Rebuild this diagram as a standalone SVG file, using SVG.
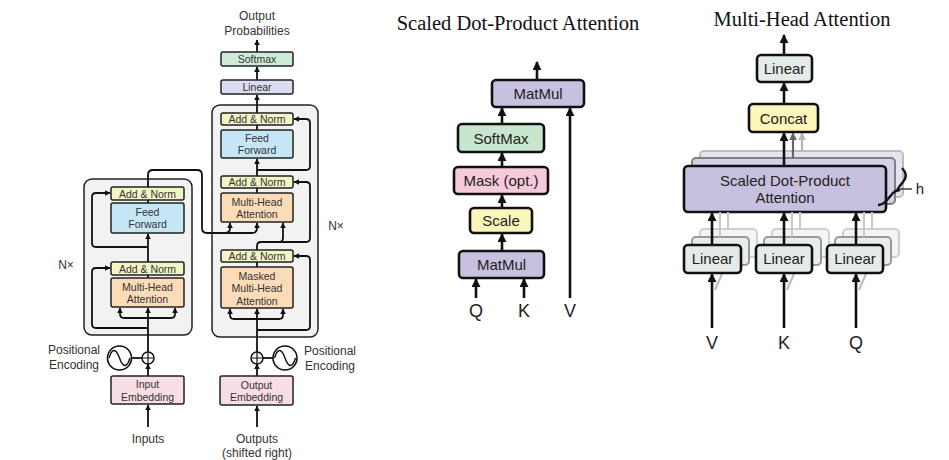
<svg xmlns="http://www.w3.org/2000/svg" width="949" height="460" viewBox="0 0 949 460">
<defs>
<style>
.t{font-family:"Liberation Sans",Arial,sans-serif;fill:#333;text-anchor:middle}
.s{font-size:10.5px}
.m{font-size:12px}
.big{font-family:"Liberation Sans",Arial,sans-serif;fill:#222;text-anchor:middle;font-size:15px}
.lab{font-family:"Liberation Sans",Arial,sans-serif;fill:#222;text-anchor:middle;font-size:18px}
.ttl{font-family:"Liberation Serif","Times New Roman",serif;fill:#111;text-anchor:middle;font-size:20.5px}
.bx{stroke:#222;stroke-width:1.5}
.bb{stroke:#111;stroke-width:2.6}
.ln{fill:none;stroke:#111;stroke-width:1.8}
.lb{fill:none;stroke:#111;stroke-width:2.6}
.an{fill:#f3f5c4}.ff{fill:#c5e7f5}.mh{fill:#fcdcb8}.em{fill:#f8dde5}.sm{fill:#d0ead8}.li{fill:#dcdcf0}
.pu{fill:#c8c0df}.gr{fill:#c8e6cd}.pk{fill:#f6c9db}.ye{fill:#fbf6b9}.lg{fill:#e4ebe9}
</style>
<marker id="a" viewBox="0 0 10 10" refX="9" refY="5" markerWidth="6" markerHeight="6" markerUnits="userSpaceOnUse" orient="auto"><path d="M0,0 L10,5 L0,10 z" fill="#111"/></marker>
<marker id="b" viewBox="0 0 10 10" refX="9" refY="5" markerWidth="9" markerHeight="9" markerUnits="userSpaceOnUse" orient="auto"><path d="M0,0 L10,5 L0,10 z" fill="#111"/></marker>
<marker id="g1" viewBox="0 0 10 10" refX="9" refY="5" markerWidth="8" markerHeight="8" markerUnits="userSpaceOnUse" orient="auto"><path d="M0,0 L10,5 L0,10 z" fill="#666"/></marker>
<marker id="g2" viewBox="0 0 10 10" refX="9" refY="5" markerWidth="8" markerHeight="8" markerUnits="userSpaceOnUse" orient="auto"><path d="M0,0 L10,5 L0,10 z" fill="#b5b5b5"/></marker>
</defs>
<rect width="949" height="460" fill="#fff"/>

<!-- ===== Transformer ===== -->
<g id="encoder-block"><rect x="84" y="179" width="108" height="156" rx="8" fill="#f2f2f2" class="bx"/></g>
<g id="decoder-block"><rect x="212" y="105" width="106" height="232" rx="8" fill="#f2f2f2" class="bx"/></g>

<g id="connectors-transformer">
<path class="ln" d="M148 427 L148 405" marker-end="url(#a)"/>
<path class="ln" d="M148 376 L148 364" marker-end="url(#a)"/>
<path class="ln" d="M148 352 L148 308" marker-end="url(#a)"/>
<path class="ln" d="M148 318 L124 318 Q120 318 120 314 L120 308" marker-end="url(#a)"/>
<path class="ln" d="M148 318 L171 318 Q175 318 175 314 L175 308" marker-end="url(#a)"/>
<path class="ln" d="M148 328 L96 328 Q92 328 92 324 L92 272 Q92 268 96 268 L110 268" marker-end="url(#a)"/>
<path class="ln" d="M148 278 L148 275"/>
<path class="ln" d="M148 262 L148 234" marker-end="url(#a)"/>
<path class="ln" d="M148 247 L96 247 Q92 247 92 243 L92 197 Q92 193 96 193 L110 193" marker-end="url(#a)"/>
<path class="ln" d="M148 203 L148 200"/>
<path class="ln" d="M148 187 L148 175 Q148 170 153 170 L197 170 Q202 170 202 175 L202 228 Q202 233 207 233 L252 233 Q257 233 257 228 L257 223" marker-end="url(#a)"/>
<path class="ln" d="M225 233 Q230 233 230 228 L230 223" marker-end="url(#a)"/>
<path class="ln" d="M257 427 L257 406" marker-end="url(#a)"/>
<path class="ln" d="M257 376 L257 364" marker-end="url(#a)"/>
<path class="ln" d="M257 352 L257 309" marker-end="url(#a)"/>
<path class="ln" d="M257 319 L234 319 Q230 319 230 315 L230 309" marker-end="url(#a)"/>
<path class="ln" d="M257 319 L279 319 Q283 319 283 315 L283 309" marker-end="url(#a)"/>
<path class="ln" d="M257 330 L306 330 Q310 330 310 326 L310 260 Q310 256 306 256 L294 256" marker-end="url(#a)"/>
<path class="ln" d="M257 267 L257 262"/>
<path class="ln" d="M257 250 L257 246 Q257 242 261 242 L306 242 Q310 242 310 238 L310 186 Q310 182 306 182 L294 182" marker-end="url(#a)"/>
<path class="ln" d="M279 242 Q283 242 283 238 L283 223" marker-end="url(#a)"/>
<path class="ln" d="M257 193 L257 188"/>
<path class="ln" d="M257 176 L257 159" marker-end="url(#a)"/>
<path class="ln" d="M257 170 L306 170 Q310 170 310 166 L310 123 Q310 119 306 119 L294 119" marker-end="url(#a)"/>
<path class="ln" d="M257 130 L257 125"/>
<path class="ln" d="M257 113 L257 95" marker-end="url(#a)"/>
<path class="ln" d="M257 80 L257 67" marker-end="url(#a)"/>
<path class="ln" d="M257 52 L257 40" marker-end="url(#a)"/>
<path class="ln" d="M131.5 358 L142 358"/>
<path class="ln" d="M263 358 L273 358"/>
</g>

<g id="enc-addnorm2"><rect x="111" y="187" width="73" height="13" rx="2" class="bx an"/><text class="t s" x="147.5" y="197.5">Add &amp; Norm</text></g>
<g id="enc-ff"><rect x="111" y="203" width="73" height="30" rx="2" class="bx ff"/><text class="t s" x="147.5" y="215.5">Feed</text><text class="t s" x="147.5" y="228">Forward</text></g>
<g id="enc-addnorm1"><rect x="111" y="262" width="73" height="13" rx="2" class="bx an"/><text class="t s" x="147.5" y="272.5">Add &amp; Norm</text></g>
<g id="enc-mha"><rect x="111" y="278" width="73" height="29" rx="2" class="bx mh"/><text class="t s" x="147.5" y="290.5">Multi-Head</text><text class="t s" x="147.5" y="303">Attention</text></g>
<g id="input-emb"><rect x="111" y="376" width="73" height="28" rx="2" class="bx em"/><text class="t s" x="147.5" y="388">Input</text><text class="t s" x="147.5" y="400.5">Embedding</text></g>
<g id="enc-plus"><circle cx="148" cy="358" r="6" fill="#fff" stroke="#111" stroke-width="1.5"/><path d="M142 358 H154 M148 352 V364" stroke="#111" stroke-width="1.2"/></g>
<g id="enc-pos"><circle cx="119.5" cy="358" r="12" fill="#fff" stroke="#111" stroke-width="1.6"/><path d="M109 358 C112 348 116 348 119.5 358 S127 368 130 358" fill="none" stroke="#111" stroke-width="1.4"/></g>
<text class="t m" x="74" y="354">Positional</text><text class="t m" x="74" y="369">Encoding</text>
<text class="t m" x="148" y="443">Inputs</text>
<text class="t m" x="66" y="269">N×</text>

<g id="dec-addnorm3"><rect x="221" y="113" width="72" height="12" rx="2" class="bx an"/><text class="t s" x="257" y="123">Add &amp; Norm</text></g>
<g id="dec-ff"><rect x="221" y="130" width="72" height="28" rx="2" class="bx ff"/><text class="t s" x="257" y="141.5">Feed</text><text class="t s" x="257" y="154">Forward</text></g>
<g id="dec-addnorm2"><rect x="221" y="176" width="72" height="12" rx="2" class="bx an"/><text class="t s" x="257" y="186">Add &amp; Norm</text></g>
<g id="dec-mha"><rect x="221" y="193" width="72" height="29" rx="2" class="bx mh"/><text class="t s" x="257" y="205.5">Multi-Head</text><text class="t s" x="257" y="218">Attention</text></g>
<g id="dec-addnorm1"><rect x="221" y="250" width="72" height="12" rx="2" class="bx an"/><text class="t s" x="257" y="260">Add &amp; Norm</text></g>
<g id="dec-mmha"><rect x="221" y="267" width="72" height="41" rx="2" class="bx mh"/><text class="t s" x="257" y="279.5">Masked</text><text class="t s" x="257" y="292">Multi-Head</text><text class="t s" x="257" y="304.5">Attention</text></g>
<g id="output-emb"><rect x="220" y="376" width="73" height="29" rx="2" class="bx em"/><text class="t s" x="256.5" y="388.5">Output</text><text class="t s" x="256.5" y="401">Embedding</text></g>
<g id="linear"><rect x="221" y="80" width="72" height="14" rx="2" class="bx li"/><text class="t s" x="257" y="91">Linear</text></g>
<g id="softmax"><rect x="221" y="52" width="72" height="14" rx="2" class="bx sm"/><text class="t s" x="257" y="63">Softmax</text></g>
<g id="dec-plus"><circle cx="257" cy="358" r="6" fill="#fff" stroke="#111" stroke-width="1.5"/><path d="M251 358 H263 M257 352 V364" stroke="#111" stroke-width="1.2"/></g>
<g id="dec-pos"><circle cx="285" cy="358" r="12" fill="#fff" stroke="#111" stroke-width="1.6"/><path d="M274.5 358 C277.5 348 281.5 348 285 358 S292.5 368 295.5 358" fill="none" stroke="#111" stroke-width="1.4"/></g>
<text class="t m" x="330" y="355">Positional</text><text class="t m" x="330" y="370">Encoding</text>
<text class="t m" x="257" y="20">Output</text><text class="t m" x="257" y="35">Probabilities</text>
<text class="t m" x="257" y="443">Outputs</text><text class="t m" x="257" y="457">(shifted right)</text>
<text class="t m" x="336" y="230">N×</text>

<!-- ===== Scaled Dot-Product Attention ===== -->
<text class="ttl" x="518" y="30">Scaled Dot-Product Attention</text>
<g id="connectors-sdpa">
<path class="lb" d="M537 80 L537 62" marker-end="url(#b)"/>
<path class="lb" d="M502 124 L502 108" marker-end="url(#b)"/>
<path class="lb" d="M502 167 L502 153" marker-end="url(#b)"/>
<path class="lb" d="M502 208 L502 195" marker-end="url(#b)"/>
<path class="lb" d="M502 251 L502 234" marker-end="url(#b)"/>
<path class="lb" d="M476 298 L476 279" marker-end="url(#b)"/>
<path class="lb" d="M524 298 L524 279" marker-end="url(#b)"/>
<path class="lb" d="M570 298 L570 108" marker-end="url(#b)"/>
</g>
<g id="sdpa-matmul2"><rect x="492" y="80" width="92" height="27" rx="4" class="bb pu"/><text class="big" x="538" y="99">MatMul</text></g>
<g id="sdpa-softmax"><rect x="458" y="124" width="86" height="28" rx="4" class="bb gr"/><text class="big" x="501" y="143.5">SoftMax</text></g>
<g id="sdpa-mask"><rect x="454" y="167" width="94" height="27" rx="4" class="bb pk"/><text class="big" x="501" y="186">Mask (opt.)</text></g>
<g id="sdpa-scale"><rect x="470" y="208" width="62" height="25" rx="4" class="bb ye"/><text class="big" x="501" y="226">Scale</text></g>
<g id="sdpa-matmul1"><rect x="459" y="251" width="85" height="27" rx="4" class="bb pu"/><text class="big" x="501.5" y="270">MatMul</text></g>
<text class="lab" x="476" y="317">Q</text><text class="lab" x="524" y="317">K</text><text class="lab" x="570" y="317">V</text>

<!-- ===== Multi-Head Attention ===== -->
<text class="ttl" x="802" y="26">Multi-Head Attention</text>
<g id="sdpa-stack">
<rect x="700" y="151" width="203" height="46" rx="4" fill="#e6e3ef" stroke="#bdbdbd" stroke-width="2"/>
<rect x="692" y="158" width="203" height="46" rx="4" fill="#d6d0e6" stroke="#808080" stroke-width="2"/>
</g>
<g id="connectors-mha">
<path class="lb" d="M784 55 L784 35" marker-end="url(#b)"/>
<path class="lb" d="M784 104 L784 83" marker-end="url(#b)"/>
<path fill="none" stroke="#b5b5b5" stroke-width="2.2" d="M802 151 L802 133" marker-end="url(#g2)"/>
<path fill="none" stroke="#666" stroke-width="2.2" d="M793 158 L793 133" marker-end="url(#g1)"/>
<path class="lb" d="M784 166 L784 133" marker-end="url(#b)"/>
</g>
<g id="mha-linear-out"><rect x="757" y="55" width="55" height="27" rx="4" class="bb lg"/><text class="big" x="784.5" y="74">Linear</text></g>
<g id="mha-concat"><rect x="749" y="104" width="69" height="28" rx="4" class="bb ye"/><text class="big" x="783.5" y="124">Concat</text></g>
<g id="mha-sdpa"><rect x="684" y="166" width="202" height="46" rx="4" class="bb pu"/><text class="big" x="785" y="186">Scaled Dot-Product</text><text class="big" x="785" y="203">Attention</text></g>
<g id="mha-brace">
<path d="M902 168 Q909 175 903 182 L899 187 Q896 190 900 190 Q896 190 893 193 L887 200 Q883 205 878 205" fill="none" stroke="#111" stroke-width="2.4"/>
<path d="M900 189 L912 189" stroke="#111" stroke-width="1.2"/>
<text class="big" x="920" y="194">h</text>
</g>

<g id="mha-linear-v">
<rect x="700" y="229" width="57" height="28" rx="4" fill="#f2f5f4" stroke="#cfcfcf" stroke-width="2"/>
<rect x="692" y="237" width="57" height="28" rx="4" fill="#e9eeed" stroke="#999" stroke-width="2"/>
<path d="M728 229 L728 212 M720 237 L720 212" stroke="#c8c8c8" stroke-width="2"/>
<path d="M715 290 L722 274" stroke="#bbb" stroke-width="2"/>
<path class="lb" d="M712 245 L712 213" marker-end="url(#b)"/>
<rect x="684" y="245" width="57" height="28" rx="4" class="bb lg"/><text class="big" x="712.5" y="264">Linear</text>
<path class="lb" d="M712 328 L712 274" marker-end="url(#b)"/>
</g>
<g id="mha-linear-k">
<rect x="772" y="229" width="57" height="28" rx="4" fill="#f2f5f4" stroke="#cfcfcf" stroke-width="2"/>
<rect x="764" y="237" width="57" height="28" rx="4" fill="#e9eeed" stroke="#999" stroke-width="2"/>
<path d="M800 229 L800 212 M792 237 L792 212" stroke="#c8c8c8" stroke-width="2"/>
<path d="M787 290 L794 274" stroke="#bbb" stroke-width="2"/>
<path class="lb" d="M784 245 L784 213" marker-end="url(#b)"/>
<rect x="756" y="245" width="56" height="28" rx="4" class="bb lg"/><text class="big" x="784" y="264">Linear</text>
<path class="lb" d="M784 328 L784 274" marker-end="url(#b)"/>
</g>
<g id="mha-linear-q">
<rect x="843" y="229" width="56" height="28" rx="4" fill="#f2f5f4" stroke="#cfcfcf" stroke-width="2"/>
<rect x="835" y="237" width="56" height="28" rx="4" fill="#e9eeed" stroke="#999" stroke-width="2"/>
<path d="M872 229 L872 212 M864 237 L864 212" stroke="#c8c8c8" stroke-width="2"/>
<path d="M859 290 L866 274" stroke="#bbb" stroke-width="2"/>
<path class="lb" d="M856 245 L856 213" marker-end="url(#b)"/>
<rect x="827" y="245" width="56" height="28" rx="4" class="bb lg"/><text class="big" x="855" y="264">Linear</text>
<path class="lb" d="M856 328 L856 274" marker-end="url(#b)"/>
</g>
<text class="lab" x="712" y="349">V</text><text class="lab" x="784" y="349">K</text><text class="lab" x="856" y="349">Q</text>
</svg>
